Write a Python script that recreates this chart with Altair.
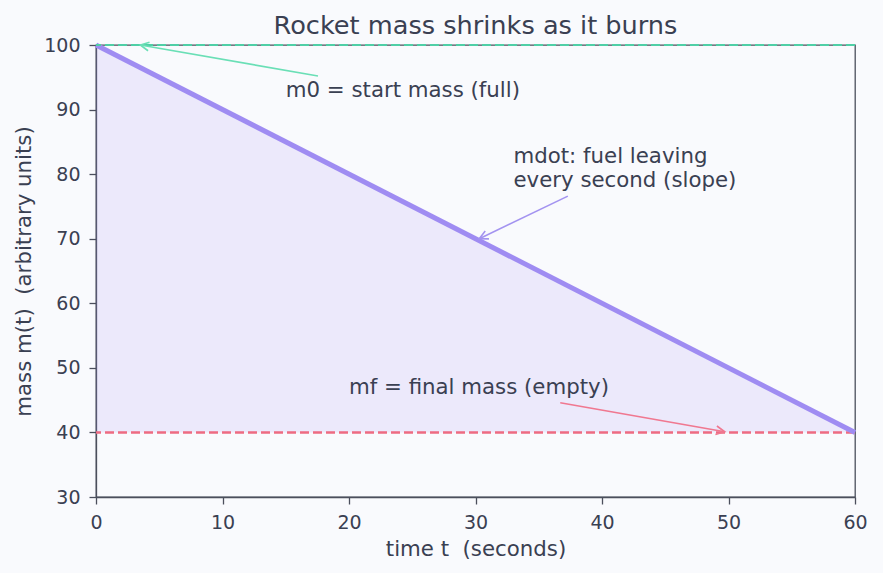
import math
import altair as alt
import pandas as pd

# ---------------- data ----------------
chart_title = "Rocket mass shrinks as it burns"
x_title = "time t\u00a0 (seconds)"
y_title = "mass m(t)\u00a0 (arbitrary units)"
t_sec = [0, 60]
mass = [100, 40]
m0 = 100
mf = 40
x_ticks = [0, 10, 20, 30, 40, 50, 60]
y_ticks = [30, 40, 50, 60, 70, 80, 90, 100]

note_text = [["m0 = start mass (full)"],
             ["mdot: fuel leaving", "every second (slope)"],
             ["mf = final mass (empty)"]]
note_x = [15, 33, 20]
note_y = [92, 81.7, 46]          # baseline of first line
tail_x = [17.55, 37.3, 36.7]
tail_y = [95.2, 76.6, 44.6]
head_x = [3.5, 30.3, 49.7]
head_y = [100, 70.0, 40.1]
arrow_color = ["#6adfb6", "#a393f0", "#f07890"]

# ---------------- styling ----------------
W, H = 759, 452
X_DOM, Y_DOM = [0, 60], [30, 100]
FONT = "DejaVu Sans"
TXT = "#3a4052"
FRAME = "#4b4f5c"
LINE = "#9f8cf2"
TEAL = "#4fcfa6"
RED = "#ee6b82"

kx = W / (X_DOM[1] - X_DOM[0])
ky = H / (Y_DOM[1] - Y_DOM[0])
angles = []
for tx, ty, hx, hy in zip(tail_x, tail_y, head_x, head_y):
    dx = (hx - tx) * kx
    dy = -(hy - ty) * ky
    angles.append(math.degrees(math.atan2(dy, dx)) % 360)

line_df = pd.DataFrame({"t": t_sec, "m": mass})
notes_df = pd.DataFrame({
    "text": note_text, "nx": note_x, "ny": note_y,
    "tx": tail_x, "ty": tail_y, "hx": head_x, "hy": head_y,
    "color": arrow_color, "angle": angles,
})
title_df = pd.DataFrame({"title": [chart_title]})

xs = alt.Scale(domain=X_DOM, nice=False, zero=False)
ys = alt.Scale(domain=Y_DOM, nice=False, zero=False)

x_axis = alt.Axis(values=x_ticks, grid=False, title=x_title,
                  labelFontSize=19, labelColor=TXT, labelFont=FONT,
                  labelBaseline="alphabetic", labelPadding=24, labelFlush=False,
                  tickSize=7, tickWidth=1.3, tickColor=FRAME,
                  domainColor=FRAME, domainWidth=1.3,
                  titleFontSize=21.3, titleFont=FONT, titleColor=TXT,
                  titleFontWeight="normal", titleBaseline="alphabetic",
                  titleY=58)
y_axis = alt.Axis(values=y_ticks, grid=False, title=y_title,
                  labelFontSize=19, labelColor=TXT, labelFont=FONT,
                  labelPadding=9, labelFlush=False,
                  tickSize=7, tickWidth=1.3, tickColor=FRAME,
                  domainColor=FRAME, domainWidth=1.3,
                  titleFontSize=21.3, titleFont=FONT, titleColor=TXT,
                  titleFontWeight="normal", titleBaseline="alphabetic",
                  titleAngle=-90, titleX=-66, titleY=H / 2, titleAlign="center")

base = alt.Chart(line_df)

area = base.mark_area(color=LINE, opacity=0.15).encode(
    x=alt.X("t:Q", scale=xs, axis=x_axis),
    y=alt.Y("m:Q", scale=ys, axis=y_axis),
    y2=alt.datum(mf),
)

rule_m0 = base.mark_rule(color=TEAL, strokeWidth=2, strokeDash=[9, 4]).encode(
    y=alt.datum(m0))
rule_mf = base.mark_rule(color=RED, strokeWidth=2, strokeDash=[9, 4]).encode(
    y=alt.datum(mf))

line = base.mark_line(color=LINE, strokeWidth=5).encode(
    x=alt.X("t:Q", scale=xs), y=alt.Y("m:Q", scale=ys))

notes = alt.Chart(notes_df)
arrows = notes.mark_rule(strokeWidth=1.6).encode(
    x=alt.X("tx:Q", scale=xs), y=alt.Y("ty:Q", scale=ys),
    x2="hx:Q", y2="hy:Q",
    color=alt.Color("color:N", scale=None))

heads = notes.mark_point(shape="M -1 -0.5 L 0 0 L -1 0.5", filled=False,
                         size=300, strokeWidth=1.6, opacity=1).encode(
    x=alt.X("hx:Q", scale=xs), y=alt.Y("hy:Q", scale=ys),
    angle=alt.Angle("angle:Q", scale=None),
    stroke=alt.Color("color:N", scale=None))

texts = notes.mark_text(align="left", baseline="alphabetic", font=FONT,
                        fontSize=21.3, color=TXT, lineHeight=24).encode(
    x=alt.X("nx:Q", scale=xs), y=alt.Y("ny:Q", scale=ys), text="text")

title_mark = alt.Chart(title_df).mark_text(
    align="center", baseline="alphabetic", font=FONT, fontSize=25.6, color=TXT
).encode(x=alt.value(W / 2), y=alt.value(-11), text="title:N")

chart = alt.layer(area, rule_mf, line, rule_m0, arrows, heads, texts,
                  title_mark).properties(
    width=W, height=H,
    background="#f9fafd",
    padding={"left": 96, "top": 45, "right": 28, "bottom": 76},
    autosize=alt.AutoSizeParams(type="none"),
).configure_view(stroke=FRAME, strokeWidth=1.3)

chart.save("out.html", embed_options={"renderer": "svg", "actions": False})
